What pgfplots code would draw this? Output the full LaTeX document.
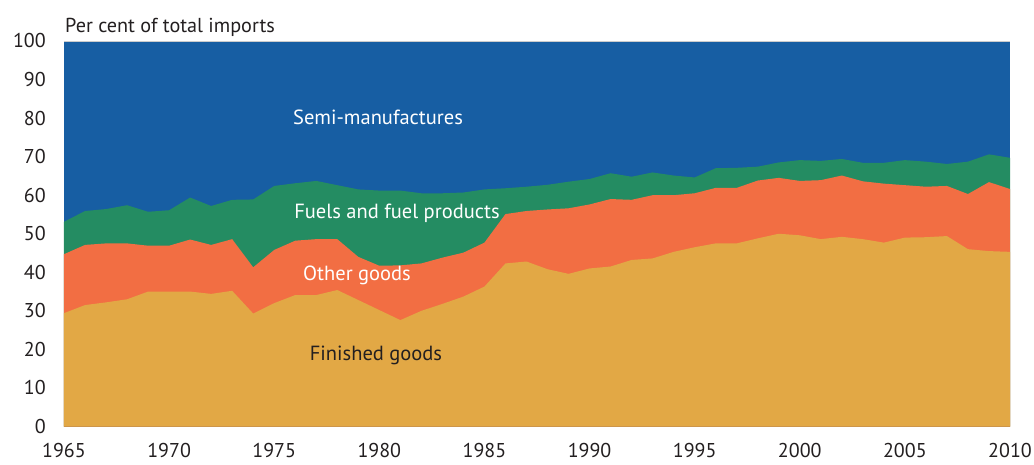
\documentclass[border=0pt]{standalone}
\usepackage{pgfplots}
\usepackage{pgfplotstable}
\pgfplotsset{compat=1.18}
\usepackage{fontspec}
\setmainfont{PT Sans}
\definecolor{cblue}{HTML}{175EA3}
\definecolor{cgreen}{HTML}{248C62}
\definecolor{corange}{HTML}{F26E43}
\definecolor{cyellow}{HTML}{E2A845}
\definecolor{ctext}{HTML}{231F20}
% cumulative boundaries: fin = finished goods, oth = finished+other, fuel = finished+other+fuels
\pgfplotstableread{
year fin oth fuel
1965 29.4 44.7 53.1
1966 31.5 47.1 55.9
1967 32.2 47.5 56.4
1968 33.0 47.5 57.4
1969 35.0 46.9 55.7
1970 35.0 46.9 56.1
1971 35.0 48.5 59.4
1972 34.4 47.1 57.2
1973 35.2 48.6 58.8
1974 29.3 41.3 58.9
1975 32.0 45.8 62.4
1976 34.1 48.2 63.1
1977 34.1 48.6 63.7
1978 35.4 48.6 62.6
1979 32.8 44.0 61.5
1980 30.2 41.7 61.2
1981 27.6 41.8 61.2
1982 30.0 42.3 60.5
1983 31.8 43.8 60.5
1984 33.7 45.1 60.7
1985 36.3 47.7 61.5
1986 42.3 55.1 61.8
1987 42.8 55.9 62.2
1988 40.8 56.3 62.7
1989 39.6 56.6 63.5
1990 41.0 57.6 64.2
1991 41.5 59.0 65.7
1992 43.2 58.8 64.8
1993 43.6 60.0 65.9
1994 45.3 60.0 65.1
1995 46.5 60.5 64.6
1996 47.5 61.9 67.0
1997 47.5 61.9 67.1
1998 48.8 63.8 67.4
1999 50.0 64.5 68.5
2000 49.6 63.7 69.1
2001 48.6 63.9 68.9
2002 49.2 65.1 69.4
2003 48.6 63.6 68.4
2004 47.7 63.0 68.4
2005 49.0 62.6 69.1
2006 49.1 62.2 68.7
2007 49.4 62.4 68.1
2008 46.0 60.3 68.7
2009 45.5 63.4 70.6
2010 45.3 61.6 69.7
}\data
\begin{document}
\begin{tikzpicture}
\useasboundingbox (-64pt,-37.5pt) rectangle (970pt,426.5pt);
\begin{axis}[
  at={(0,0)}, anchor=south west,
  scale only axis,
  width=946pt, height=385.5pt,
  xmin=1965, xmax=2010, ymin=0, ymax=100,
  xtick={1965,1970,...,2010},
  ytick={0,10,...,100},
  axis line style={draw=none},
  tick style={draw=none},
  major tick length=0pt,
  /pgf/number format/assume math mode=true,
  /pgf/number format/1000 sep={},
  ticklabel style={font=\fontsize{20}{21}\selectfont, text=ctext},
  xticklabel style={inner sep=0pt, yshift=-16.5pt},
  yticklabel style={inner sep=0pt, xshift=-18pt},
  clip=false,
]
\addplot[fill=cblue, draw=none] coordinates {(1965,100) (2010,100)} \closedcycle;
\addplot[fill=cgreen, draw=none] table[x=year, y=fuel] {\data} \closedcycle;
\addplot[fill=corange, draw=none] table[x=year, y=oth] {\data} \closedcycle;
\addplot[fill=cyellow, draw=none] table[x=year, y=fin] {\data} \closedcycle;
\draw[gray!40, line width=0.8pt] (axis cs:1965,100) -- (axis cs:2010,100);
\node[font=\fontsize{20.5}{21}\selectfont, text=white] at (axis cs:1979.94,80.3) {Semi-manufactures};
\node[font=\fontsize{20.5}{21}\selectfont, text=white] at (axis cs:1980.84,55.4) {Fuels and fuel products};
\node[font=\fontsize{20.5}{21}\selectfont, text=white] at (axis cs:1978.94,39.3) {Other goods};
\node[font=\fontsize{20.5}{21}\selectfont, text=ctext] at (axis cs:1979.84,18.5) {Finished goods};
\node[font=\fontsize{20.2}{21}\selectfont, text=ctext, anchor=base west, inner sep=0pt] at ([xshift=1pt, yshift=8pt]rel axis cs:0,1) {Per cent of total imports};
\end{axis}
\end{tikzpicture}
\end{document}
